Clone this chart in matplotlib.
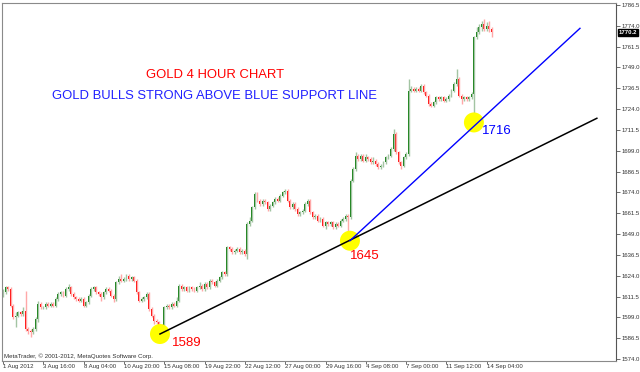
import numpy as np
import matplotlib.pyplot as plt
from matplotlib.patches import Ellipse

# 4h gold candles, 1 Aug 2012 - 14 Sep 2012
closes = [
    1614, 1617, 1616, 1606, 1599, 1600, 1602, 1601, 1603, 1592,
    1591, 1590, 1592, 1598, 1607, 1605, 1605, 1607, 1606, 1607,
    1606, 1610, 1613, 1614, 1612, 1616, 1617, 1613, 1611, 1610,
    1609, 1610, 1606, 1608, 1612, 1616, 1617, 1614, 1613, 1611,
    1614, 1616, 1615, 1612, 1610, 1620, 1622, 1621, 1622, 1624,
    1622, 1623, 1621, 1614, 1609, 1610, 1611, 1613, 1604, 1600,
    1597, 1596, 1594, 1593, 1605, 1606, 1605, 1607, 1606, 1609,
    1618, 1616, 1617, 1615, 1617, 1616, 1615, 1617, 1618, 1616,
    1619, 1617, 1621, 1620, 1618, 1621, 1623, 1626, 1625, 1641,
    1640, 1638, 1639, 1640, 1638, 1639, 1637, 1655, 1657, 1665,
    1673, 1669, 1667, 1669, 1668, 1664, 1666, 1668, 1670, 1669,
    1672, 1674, 1675, 1669, 1665, 1667, 1664, 1661, 1662, 1663,
    1667, 1669, 1662, 1659, 1660, 1657, 1658, 1654, 1656, 1655,
    1656, 1653, 1655, 1654, 1657, 1658, 1660, 1659, 1681, 1688,
    1696, 1694, 1696, 1693, 1695, 1694, 1692, 1693, 1691, 1689,
    1690, 1692, 1695, 1696, 1700, 1709, 1698, 1692, 1690, 1695,
    1697, 1735, 1736, 1735, 1736, 1735, 1738, 1734, 1732, 1727,
    1726, 1728, 1731, 1730, 1731, 1729, 1730, 1732, 1735, 1739,
    1742, 1732, 1730, 1731, 1730, 1731, 1733, 1767, 1770, 1773,
    1775, 1772, 1774, 1772, 1770.2,
]
first_open = 1612
wick_up = [
    2, 1, 1, 1, 1, 2, 1, 1, 2, 12,
    1, 1, 1, 1, 2, 1, 1, 1, 1, 1,
    1, 1, 1, 1, 1, 1, 2, 1, 1, 1,
    1, 1, 1, 1, 1, 1, 1, 1, 1, 1,
    1, 1, 1, 1, 1, 1, 2, 3, 1, 1,
    1, 1, 1, 1, 1, 1, 1, 1, 1, 1,
    1, 1, 1, 1, 1, 1, 1, 1, 1, 2,
    1, 1, 1, 1, 1, 1, 1, 1, 2, 1,
    1, 1, 1, 1, 1, 1, 1, 1, 1, 1,
    1, 1, 1, 1, 1, 1, 1, 1, 2, 1,
    1, 1, 1, 1, 1, 1, 1, 1, 1, 1,
    1, 1, 1, 1, 1, 1, 1, 1, 1, 1,
    1, 1, 1, 1, 1, 1, 1, 1, 1, 1,
    1, 1, 1, 1, 1, 1, 1, 1, 1, 1,
    2, 1, 1, 1, 2, 1, 1, 2, 1, 1,
    1, 1, 1, 1, 1, 3, 1, 1, 1, 1,
    1, 7, 2, 1, 1, 1, 1, 1, 1, 1,
    1, 1, 1, 1, 1, 1, 1, 1, 1, 1,
    6, 1, 1, 1, 1, 1, 1, 1, 3, 2,
    2, 3, 2, 3, 1,
]
wick_down = [
    1, 1, 1, 1, 1, 6, 1, 1, 1, 1,
    2, 3, 1, 1, 2, 1, 1, 1, 1, 1,
    1, 1, 1, 1, 1, 1, 1, 1, 1, 1,
    1, 1, 1, 1, 1, 1, 1, 1, 1, 2,
    1, 1, 1, 1, 2, 1, 1, 1, 1, 1,
    1, 1, 1, 1, 1, 1, 1, 1, 1, 1,
    2, 1, 5, 1, 1, 1, 1, 1, 1, 1,
    1, 1, 1, 1, 1, 1, 1, 1, 1, 1,
    1, 1, 1, 1, 1, 1, 1, 1, 1, 1,
    1, 1, 1, 1, 1, 1, 1, 3, 1, 1,
    1, 1, 1, 1, 1, 1, 1, 1, 1, 1,
    1, 1, 1, 1, 1, 1, 1, 1, 1, 1,
    1, 1, 1, 1, 1, 1, 1, 1, 2, 1,
    1, 1, 1, 1, 1, 1, 1, 14, 1, 1,
    1, 1, 1, 1, 1, 1, 1, 1, 1, 1,
    1, 1, 1, 1, 1, 1, 1, 1, 2, 1,
    1, 1, 1, 1, 1, 1, 1, 1, 1, 1,
    1, 1, 1, 1, 1, 1, 1, 1, 1, 1,
    1, 1, 3, 1, 1, 1, 1, 17, 1, 1,
    2, 1, 1, 2, 3,
]

time_labels = ['1 Aug 2012', '3 Aug 16:00', '8 Aug 04:00', '10 Aug 20:00',
               '15 Aug 08:00', '19 Aug 22:00', '22 Aug 12:00', '27 Aug 00:00',
               '29 Aug 16:00', '4 Sep 08:00', '7 Sep 00:00', '11 Sep 12:00',
               '14 Sep 04:00']
price_ticks = [1574.0, 1586.5, 1599.0, 1611.5, 1624.0, 1636.5, 1649.0, 1661.5,
               1674.0, 1686.5, 1699.0, 1711.5, 1724.0, 1736.5, 1749.0, 1761.5,
               1774.0, 1786.5]

# trend lines: (bar, price) end points
black_line = ([62.3, 235.7], [1589, 1718.5])
blue_line = ([137.7, 229.0], [1645, 1772.5])
# marked touches: bar, price, label, colour, label position (bar, price)
marks = [(62.3, 1589, '1589', 'red', (67.0, 1583.6)),
         (137.7, 1645, '1645', 'red', (137.8, 1636.0)),
         (186.9, 1716, '1716', 'blue', (190.0, 1711.0))]

closes = np.array(closes, dtype=float)
opens = np.concatenate([[first_open], closes[:-1]])
highs = np.maximum(opens, closes) + np.array(wick_up)
lows = np.minimum(opens, closes) - np.array(wick_down)
idx = np.arange(len(closes))
up = closes >= opens

plt.rcParams['font.family'] = ['Liberation Sans', 'DejaVu Sans']
fig = plt.figure(figsize=(6.4, 3.72), dpi=100)
ax = fig.add_axes([2 / 640, 11 / 372, 614 / 640, 358 / 372])

ax.vlines(idx[up], lows[up], highs[up], color='#a3c4a3', lw=1.0)
ax.vlines(idx[~up], lows[~up], highs[~up], color='#ffa8a8', lw=1.0)
body = np.maximum(np.abs(closes - opens), 0.5)
ax.bar(idx[up], body[up], bottom=np.minimum(opens, closes)[up], width=0.75,
       color='#0a7a0a', linewidth=0)
ax.bar(idx[~up], body[~up], bottom=np.minimum(opens, closes)[~up], width=0.75,
       color='#ff0000', linewidth=0)

sx = 2.52  # px per bar
sy = 1.666  # px per dollar
for bx, py, txt, col, pos in marks:
    ax.add_patch(Ellipse((bx, py), 20 / sx, 20 / sy, color='#ffff00', lw=0, zorder=3))
    ax.text(pos[0], pos[1], txt, color=col, fontsize=9.5, va='center', zorder=5)
ax.plot(*black_line, color='black', lw=1.1, zorder=4)
ax.plot(*blue_line, color='#0000ff', lw=1.0, zorder=4)

ax.text(84, 1744.5, 'GOLD 4 HOUR CHART', color='red', fontsize=9.4, ha='center', va='center')
ax.text(84, 1731.9, 'GOLD BULLS STRONG ABOVE BLUE SUPPORT LINE', color='#2020ff',
        fontsize=9.4, ha='center', va='center')
ax.text(0.2, 1575.8, 'MetaTrader, \u00a9 2001-2012, MetaQuotes Software Corp.',
        fontsize=4.4, color='#303030', va='center')

ax.set_xlim(-0.4, 243.3)
ax.set_ylim(1572.8, 1787.7)
ax.set_xticks(np.arange(len(time_labels)) * 16)
ax.set_xticklabels(time_labels, ha='left')
ax.set_yticks(price_ticks)
ax.set_yticklabels([f'{p:.1f}' for p in price_ticks])
ax.yaxis.tick_right()
ax.tick_params(axis='x', direction='out', length=2.5, width=0.6, pad=0,
               labelsize=4.3, colors='#555555', labelcolor='#333333')
ax.tick_params(axis='y', direction='out', length=3, width=0.6, pad=1,
               labelsize=4.3, colors='#555555', labelcolor='#333333')
for sp in ax.spines.values():
    sp.set_color('#8a8a8a')
    sp.set_linewidth(0.8)
ax.spines['right'].set_color('#555555')

ax.text(1.005, 1770.2, '1770.2', transform=ax.get_yaxis_transform(), fontsize=4.3,
        color='white', va='center', ha='left', fontweight='bold',
        bbox=dict(boxstyle='square,pad=0.15', fc='black', ec='black'))

fig.savefig('out.png', dpi=100)
